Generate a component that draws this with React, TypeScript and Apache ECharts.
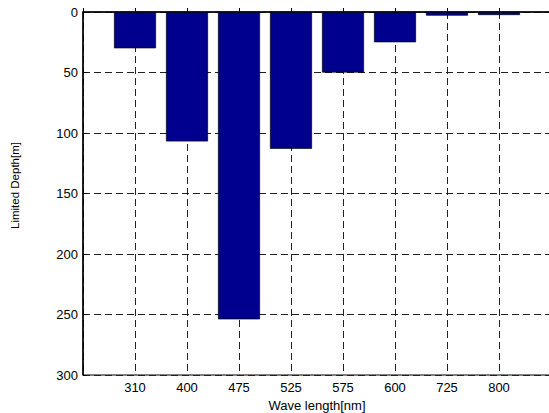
import React, { useEffect, useRef } from "react";
import * as echarts from "echarts";

const categories = ["310", "400", "475", "525", "575", "600", "725", "800"];
const depthValues = [30, 107, 254, 113, 50, 25, 3, 2.5];
const yTicks = [0, 50, 100, 150, 200, 250, 300];

export default function App() {
  const ref = useRef<HTMLDivElement>(null);
  useEffect(() => {
    if (!ref.current) return;
    const chart = echarts.init(ref.current, null, { renderer: "svg" });
    const font = "'Liberation Sans', Arial, sans-serif";
    const gridLine = { show: true, lineStyle: { color: "#222", type: [7, 4] as any, width: 1 } };
    chart.setOption({
      animation: false,
      backgroundColor: "#fff",
      grid: {
        left: 83,
        top: 12,
        width: 468,
        height: 363,
        show: true,
        borderColor: "#000",
        borderWidth: 1,
        outerBoundsMode: "none",
      },
      xAxis: {
        type: "value",
        min: 0,
        max: categories.length + 1,
        interval: 1,
        name: "Wave length[nm]",
        nameLocation: "middle",
        nameGap: 22,
        nameTextStyle: { color: "#000", fontSize: 13, fontFamily: font },
        axisLine: { show: true, lineStyle: { color: "#000", width: 1.5 } },
        axisTick: { show: true, inside: true, length: 4, lineStyle: { color: "#000" } },
        axisLabel: {
          color: "#000",
          fontSize: 13,
          fontFamily: font,
          margin: 6,
          formatter: (v: number) => {
            const i = Math.round(v) - 1;
            return i >= 0 && i < categories.length ? categories[i] : "";
          },
        },
        splitLine: gridLine,
      },
      yAxis: {
        type: "value",
        inverse: true,
        min: yTicks[0],
        max: yTicks[yTicks.length - 1],
        interval: 50,
        name: "Limited Depth[m]",
        nameLocation: "middle",
        nameGap: 62,
        nameTextStyle: { color: "#000", fontSize: 11.5, fontFamily: font, padding: [0, 0, 0, 16] },
        axisLine: { show: true, lineStyle: { color: "#000", width: 1.5 } },
        axisTick: { show: true, inside: true, length: 4, lineStyle: { color: "#000" } },
        axisLabel: { color: "#000", fontSize: 13, fontFamily: font, margin: 5 },
        splitLine: gridLine,
      },
      series: [
        {
          type: "bar",
          barWidth: 42,
          data: depthValues.map((v, i) => [i + 1, v]),
          itemStyle: { color: "#00008F", borderColor: "#000", borderWidth: 0.7 },
        },
      ],
    });
    return () => chart.dispose();
  }, []);
  return (
    <div
      ref={ref}
      style={{ position: "fixed", left: 0, top: 0, width: 549, height: 413 }}
    />
  );
}
